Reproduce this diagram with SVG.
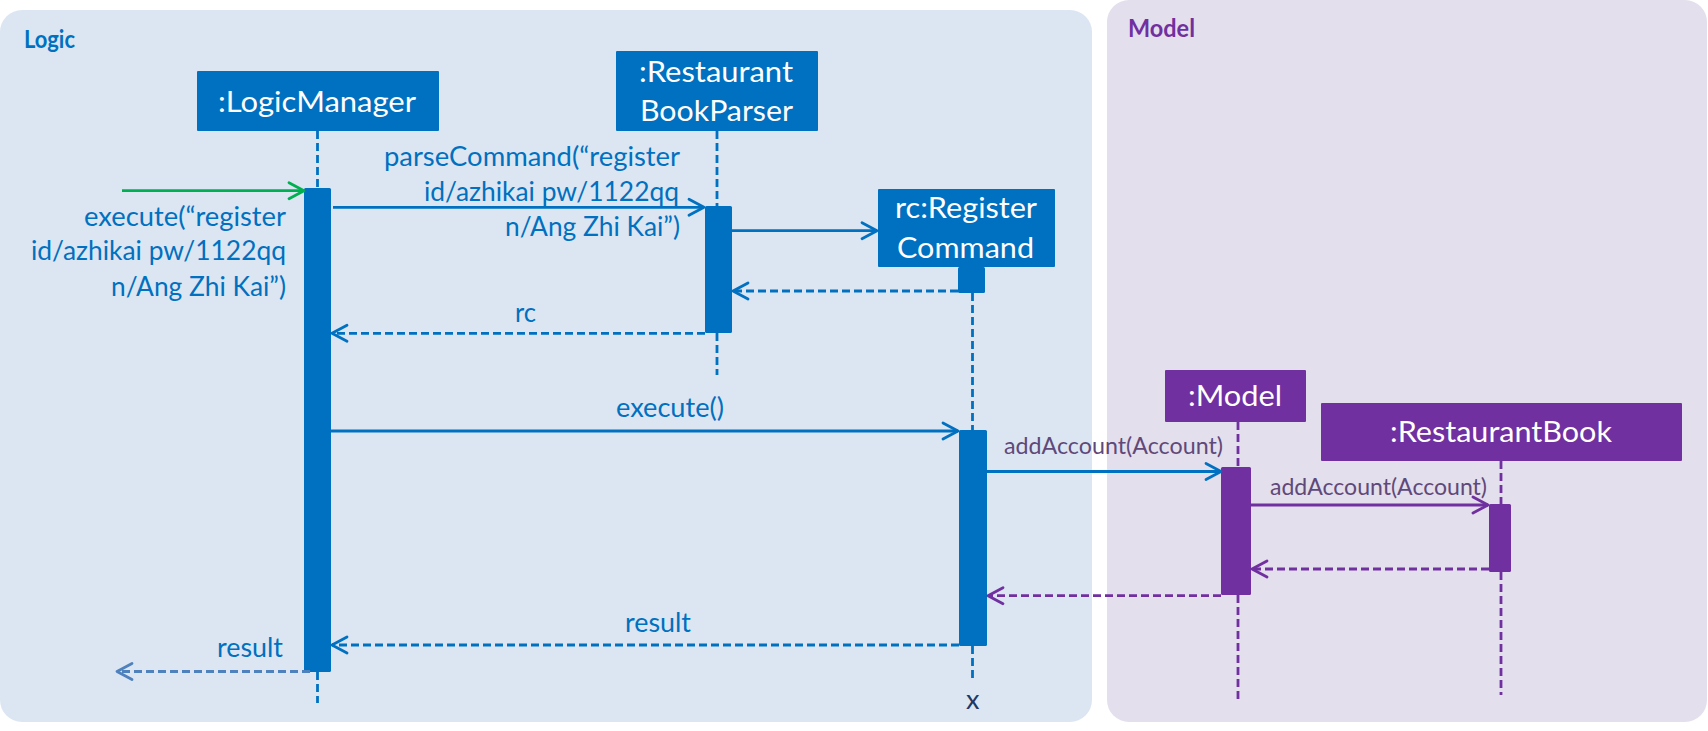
<svg xmlns="http://www.w3.org/2000/svg" width="1708" height="731" viewBox="0 0 1708 731">
  <style>
    text { font-family: Lato, "Liberation Sans", sans-serif; }
    .panel-title { font-weight: bold; font-size: 25px; }
    .box-text { fill: #FFFFFF; font-size: 29px; }
    .lbl { fill: #0070C0; font-size: 27px; }
    .lbl-p { fill: #5F497A; font-size: 23px; }
    .blue-box { fill: #0070C0; }
    .purple-box { fill: #7030A0; }
    .life-b { stroke: #0070C0; stroke-width: 2.8; stroke-dasharray: 8 4; fill: none; }
    .life-p { stroke: #7030A0; stroke-width: 2.8; stroke-dasharray: 8 4; fill: none; }
    .msg-b { stroke: #0070C0; stroke-width: 2.8; fill: none; marker-end: url(#ah-b); }
    .msg-p { stroke: #7030A0; stroke-width: 2.8; fill: none; marker-end: url(#ah-p); }
    .msg-g { stroke: #00B050; stroke-width: 2.8; fill: none; marker-end: url(#ah-g); }
    .ret-b { stroke: #0070C0; stroke-width: 2.8; stroke-dasharray: 8 4; fill: none; marker-end: url(#ah-b); }
    .ret-p { stroke: #7030A0; stroke-width: 2.8; stroke-dasharray: 8 4; fill: none; marker-end: url(#ah-p); }
    .ret-l { stroke: #4F81BD; stroke-width: 2.8; stroke-dasharray: 8 4; fill: none; marker-end: url(#ah-l); }
  </style>
  <defs>
    <marker id="ah-b" markerUnits="userSpaceOnUse" markerWidth="22" markerHeight="22" viewBox="-19 -11 22 22" refX="0" refY="0" orient="auto">
      <path d="M-15,-8 L0,0 L-15,8" fill="none" stroke="#0070C0" stroke-width="2.8" stroke-linecap="round" stroke-linejoin="round"/>
    </marker>
    <marker id="ah-p" markerUnits="userSpaceOnUse" markerWidth="22" markerHeight="22" viewBox="-19 -11 22 22" refX="0" refY="0" orient="auto">
      <path d="M-15,-8 L0,0 L-15,8" fill="none" stroke="#7030A0" stroke-width="2.8" stroke-linecap="round" stroke-linejoin="round"/>
    </marker>
    <marker id="ah-g" markerUnits="userSpaceOnUse" markerWidth="22" markerHeight="22" viewBox="-19 -11 22 22" refX="0" refY="0" orient="auto">
      <path d="M-15,-8 L0,0 L-15,8" fill="none" stroke="#00B050" stroke-width="2.8" stroke-linecap="round" stroke-linejoin="round"/>
    </marker>
    <marker id="ah-l" markerUnits="userSpaceOnUse" markerWidth="22" markerHeight="22" viewBox="-19 -11 22 22" refX="0" refY="0" orient="auto">
      <path d="M-15,-8 L0,0 L-15,8" fill="none" stroke="#4F81BD" stroke-width="2.8" stroke-linecap="round" stroke-linejoin="round"/>
    </marker>
  </defs>

  <rect width="1708" height="731" fill="#FFFFFF"/>

  <g id="panel-logic">
    <rect x="0" y="10" width="1092" height="712" rx="22" fill="#DCE6F2"/>
    <text class="panel-title" x="24" y="48" fill="#0070C0" textLength="51" lengthAdjust="spacingAndGlyphs">Logic</text>
  </g>
  <g id="panel-model">
    <rect x="1107" y="0" width="600" height="722" rx="22" fill="#E4DFEC"/>
    <text class="panel-title" x="1128" y="37" fill="#7030A0" textLength="67" lengthAdjust="spacingAndGlyphs">Model</text>
  </g>

  <g id="lifelines">
    <path class="life-b" d="M317.5,131 V188 M317.5,672 V703"/>
    <path class="life-b" d="M717,131 V206 M717,333 V375"/>
    <path class="life-b" d="M972.5,293 V430 M972.5,646 V682"/>
    <path class="life-p" d="M1238,422 V467 M1238,595 V703"/>
    <path class="life-p" d="M1501,461 V504 M1501,572 V695"/>
  </g>

  <g id="logic-manager">
    <rect class="blue-box" x="197" y="71" width="242" height="60" rx="1"/>
    <text class="box-text" x="218" y="112" textLength="198" lengthAdjust="spacingAndGlyphs">:LogicManager</text>
    <rect class="blue-box" x="304" y="188" width="27" height="484" rx="1.5"/>
  </g>

  <g id="restaurant-book-parser">
    <rect class="blue-box" x="616" y="51" width="202" height="80" rx="1"/>
    <text class="box-text" x="639" y="82" textLength="154" lengthAdjust="spacingAndGlyphs">:Restaurant</text>
    <text class="box-text" x="640" y="121" textLength="153" lengthAdjust="spacingAndGlyphs">BookParser</text>
    <rect class="blue-box" x="705" y="206" width="27" height="127" rx="1.5"/>
  </g>

  <g id="register-command">
    <rect class="blue-box" x="878" y="189" width="177" height="78" rx="1"/>
    <text class="box-text" x="895" y="218" textLength="142" lengthAdjust="spacingAndGlyphs">rc:Register</text>
    <text class="box-text" x="897" y="258" textLength="137" lengthAdjust="spacingAndGlyphs">Command</text>
    <rect class="blue-box" x="958" y="267" width="27" height="26" rx="1.5"/>
    <rect class="blue-box" x="959" y="430" width="28" height="216" rx="1.5"/>
    <text x="966" y="709" font-size="27" fill="#1F3864">x</text>
  </g>

  <g id="model">
    <rect class="purple-box" x="1165" y="370" width="141" height="52" rx="1"/>
    <text class="box-text" x="1188" y="406" textLength="94" lengthAdjust="spacingAndGlyphs">:Model</text>
    <rect class="purple-box" x="1221" y="467" width="30" height="128" rx="1.5"/>
  </g>

  <g id="restaurant-book">
    <rect class="purple-box" x="1321" y="403" width="361" height="58" rx="1"/>
    <text class="box-text" x="1390" y="442" textLength="222" lengthAdjust="spacingAndGlyphs">:RestaurantBook</text>
    <rect class="purple-box" x="1489" y="504" width="22" height="68" rx="1.5"/>
  </g>

  <g id="connectors">
    <path class="msg-g" d="M122,190.7 H304"/>
    <path class="msg-b" d="M333,207.3 H704"/>
    <path class="msg-b" d="M732,230.7 H877"/>
    <path class="ret-b" d="M958,291 H733"/>
    <path class="ret-b" d="M705,333.3 H332"/>
    <path class="msg-b" d="M331,431 H958"/>
    <path class="msg-b" d="M987,471.5 H1221"/>
    <path class="msg-p" d="M1251,505 H1488"/>
    <path class="ret-p" d="M1489,569 H1252"/>
    <path class="ret-p" d="M1221,595.7 H988"/>
    <path class="ret-b" d="M959,645 H332"/>
    <path class="ret-l" d="M310,671.5 H117"/>
  </g>

  <g id="labels">
    <text class="lbl" x="84" y="226" textLength="202" lengthAdjust="spacingAndGlyphs">execute(“register</text>
    <text class="lbl" x="31" y="260" textLength="255" lengthAdjust="spacingAndGlyphs">id/azhikai pw/1122qq</text>
    <text class="lbl" x="111" y="296" textLength="175" lengthAdjust="spacingAndGlyphs">n/Ang Zhi Kai”)</text>

    <text class="lbl" x="384" y="166" textLength="296" lengthAdjust="spacingAndGlyphs">parseCommand(“register</text>
    <text class="lbl" x="424" y="201" textLength="255" lengthAdjust="spacingAndGlyphs">id/azhikai pw/1122qq</text>
    <text class="lbl" x="505" y="236" textLength="175" lengthAdjust="spacingAndGlyphs">n/Ang Zhi Kai”)</text>

    <text class="lbl" x="515" y="322" textLength="21" lengthAdjust="spacingAndGlyphs">rc</text>
    <text class="lbl" x="616" y="417" textLength="108" lengthAdjust="spacingAndGlyphs">execute()</text>
    <text class="lbl" x="625" y="632" textLength="66" lengthAdjust="spacingAndGlyphs">result</text>
    <text class="lbl" x="217" y="657" textLength="66" lengthAdjust="spacingAndGlyphs">result</text>

    <text class="lbl-p" x="1004" y="454" textLength="219" lengthAdjust="spacingAndGlyphs">addAccount(Account)</text>
    <text class="lbl-p" x="1270" y="495" textLength="217" lengthAdjust="spacingAndGlyphs">addAccount(Account)</text>
  </g>
</svg>
